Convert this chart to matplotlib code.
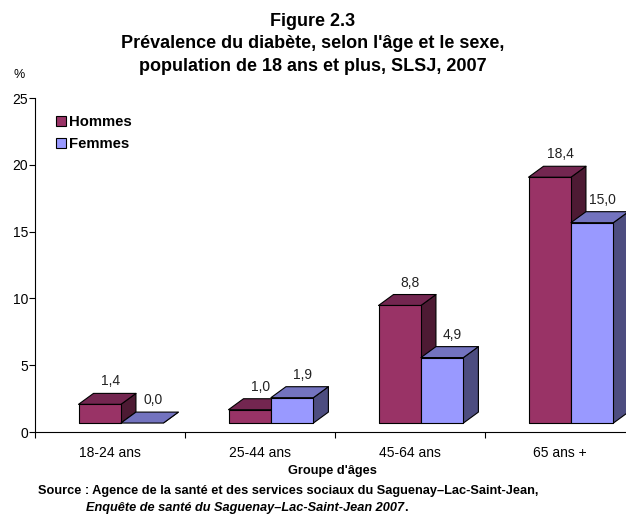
import matplotlib
matplotlib.use("Agg")
import matplotlib.pyplot as plt
from matplotlib.patches import Polygon, Patch

plt.rcParams['font.family'] = ['Liberation Sans', 'DejaVu Sans']

# data
categories = ["18-24 ans", "25-44 ans", "45-64 ans", "65 ans +"]
hommes = [1.4, 1.0, 8.8, 18.4]
femmes = [0.0, 1.9, 4.9, 15.0]
series_names = ["Hommes", "Femmes"]
yticks = [0, 5, 10, 15, 20, 25]

# colours: front, top, side
colors = {
    "Hommes": ("#993366", "#732650", "#4d1a33"),
    "Femmes": ("#9999ff", "#7373bf", "#4d4d80"),
}

# 3D look (data units)
depth_x = 0.1
depth_y = 0.82
base = 0.67
bar_w = 0.283
start = 0.29

fig = plt.figure(figsize=(6.26, 5.14), dpi=100)
ax = fig.add_axes([35 / 626, 1 - 432 / 514, 600 / 626, 334 / 514])
ax.set_xlim(0, len(categories))
ax.set_ylim(0, 25)


def draw_bar(x0, v, cols):
    front, top, side = cols
    y0 = base
    y1 = base + v
    x1 = x0 + bar_w
    kw = dict(edgecolor="black", linewidth=0.8, joinstyle="round", clip_on=False)
    ax.add_patch(Polygon([(x1, y0), (x1 + depth_x, y0 + depth_y),
                          (x1 + depth_x, y1 + depth_y), (x1, y1)],
                         facecolor=side, **kw))
    ax.add_patch(Polygon([(x0, y1), (x0 + depth_x, y1 + depth_y),
                          (x1 + depth_x, y1 + depth_y), (x1, y1)],
                         facecolor=top, **kw))
    if v > 0:
        ax.add_patch(Polygon([(x0, y0), (x1, y0), (x1, y1), (x0, y1)],
                             facecolor=front, **kw))
    ax.text(x0 + bar_w / 2 + 0.07, y1 + depth_y + 0.9, f"{v:.1f}".replace(".", ","),
            ha="center", va="center", fontsize=10, color="#222222")


for i in range(len(categories)):
    for j, (name, vals) in enumerate(zip(series_names, [hommes, femmes])):
        draw_bar(i + start + j * bar_w, vals[i], colors[name])

# axes styling
for s in ["top", "right"]:
    ax.spines[s].set_visible(False)
ax.spines["left"].set_linewidth(0.8)
ax.spines["bottom"].set_linewidth(0.8)
ax.set_yticks(yticks)
ax.set_yticklabels([str(t) for t in yticks], fontsize=10)
ax.tick_params(axis="y", length=4, width=0.8, pad=1)
ax.set_xticks(range(len(categories) + 1))
ax.set_xticklabels([])
ax.tick_params(axis="x", which="major", length=4, width=0.8)
ax.set_xticks([i + 0.5 for i in range(len(categories))], minor=True)
ax.set_xticklabels(categories, minor=True, fontsize=10)
ax.tick_params(axis="x", which="minor", length=0, pad=10)

# legend
handles = [Patch(facecolor=colors[n][0], edgecolor="black", linewidth=0.8) for n in series_names]
fig.legend(handles, series_names, loc="upper left", bbox_to_anchor=(56 / 626, 1 - 115 / 514),
           frameon=False, prop={"weight": "bold", "size": 10.7}, handlelength=0.65,
           handleheight=0.65, handletextpad=0.25, labelspacing=0.55, borderaxespad=0,
           borderpad=0)

# titles and notes
fig.text(313 / 626, 1 - 44 / 514,
         "Figure 2.3\nPrévalence du diabète, selon l'âge et le sexe,\npopulation de 18 ans et plus, SLSJ, 2007",
         ha="center", va="center", fontsize=13, fontweight="bold", linespacing=1.45)
fig.text(19 / 626, 1 - 75 / 514, "%", ha="center", va="center", fontsize=9)
fig.text(332.5 / 626, 1 - 471 / 514, "Groupe d'âges", ha="center", va="center",
         fontsize=9.2, fontweight="bold")
fig.text(38 / 626, 1 - 491 / 514,
         "Source : Agence de la santé et des services sociaux du Saguenay–Lac-Saint-Jean,",
         ha="left", va="center", fontsize=9.2, fontweight="bold")
t = fig.text(86 / 626, 1 - 508 / 514, "Enquête de santé du Saguenay–Lac-Saint-Jean 2007",
             ha="left", va="center", fontsize=9.2, fontweight="bold", style="italic")
ax.annotate(".", xy=(1, 0.5), xycoords=t, ha="left", va="center",
            fontsize=9.2, fontweight="bold", annotation_clip=False)

fig.savefig("out.png", dpi=100)
